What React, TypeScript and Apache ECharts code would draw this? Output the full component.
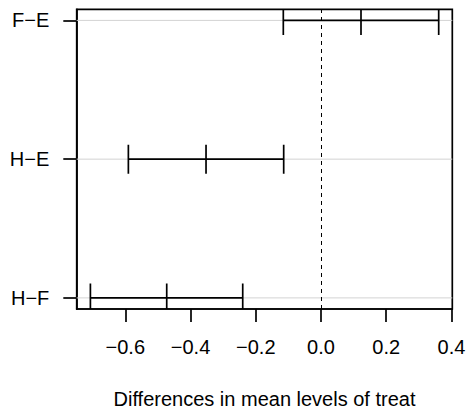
import React, { useEffect, useRef } from "react";
import * as echarts from "echarts";

const comparisons = ["F−E", "H−E", "H−F"];
const positions = [3, 2, 1];
const diffs = [0.1226, -0.3525, -0.473];
const lowers = [-0.1156, -0.5906, -0.707];
const uppers = [0.3608, -0.1144, -0.24];
const xTicks = [-0.6, -0.4, -0.2, 0, 0.2, 0.4];
const xMin = -0.749;
const xMax = 0.4025;
const yMin = 0.92;
const yMax = 3.08;
const xTitle = "Differences in mean levels of treat";

const FONT = "'Liberation Sans', Arial, Helvetica, sans-serif";

export default function App() {
  const ref = useRef<HTMLDivElement>(null);
  useEffect(() => {
    document.body.style.margin = "0";
    const chart = echarts.init(ref.current!, null, { renderer: "svg" });
    const barData = comparisons.map((c, i) => [lowers[i], diffs[i], uppers[i], positions[i]]);
    const gridData = positions.map((p) => [p]);
    chart.setOption({
      animation: false,
      backgroundColor: "#ffffff",
      textStyle: { fontFamily: FONT },
      grid: {
        left: 76.7,
        right: 17.7,
        top: 9.3,
        bottom: 104.7,
        show: true,
        borderColor: "#000",
        borderWidth: 1.7,
        backgroundColor: "transparent",
      },
      xAxis: {
        type: "value",
        min: xMin,
        max: xMax,
        name: xTitle,
        nameLocation: "middle",
        nameGap: 80,
        nameTextStyle: { fontSize: 20, color: "#000", fontFamily: FONT },
        axisLine: { show: true, onZero: false, lineStyle: { color: "#000", width: 1.7 } },
        axisTick: { show: true, length: 13, customValues: xTicks, lineStyle: { color: "#000", width: 1.7 } },
        axisLabel: {
          customValues: xTicks,
          fontSize: 20,
          color: "#000",
          margin: 28,
          fontFamily: FONT,
          formatter: (v: number) => (v < 0 ? "−" + Math.abs(v).toFixed(1) : v.toFixed(1)),
        },
        splitLine: { show: false },
      },
      yAxis: {
        type: "value",
        min: yMin,
        max: yMax,
        axisLine: { show: true, onZero: false, lineStyle: { color: "#000", width: 1.7 } },
        axisTick: { show: true, length: 13.4, customValues: positions, lineStyle: { color: "#000", width: 1.7 } },
        axisLabel: {
          customValues: positions,
          fontSize: 20,
          color: "#000",
          margin: 27.4,
          fontFamily: FONT,
          formatter: (v: number) => {
            const idx = positions.indexOf(Math.round(v));
            return idx >= 0 ? comparisons[idx] : "";
          },
        },
        splitLine: { show: false },
      },
      series: [
        {
          type: "custom",
          name: "grid",
          clip: true,
          z: 1,
          data: gridData,
          renderItem: (params: any, api: any) => {
            const y = api.value(0);
            const a = api.coord([xMin, y]);
            const b = api.coord([xMax, y]);
            return {
              type: "line",
              shape: { x1: a[0], y1: a[1], x2: b[0], y2: b[1] },
              style: { stroke: "#d3d3d3", lineWidth: 1 },
            };
          },
          markLine: {
            silent: true,
            symbol: "none",
            label: { show: false },
            lineStyle: { color: "#000", width: 1, type: [4, 4] },
            data: [{ xAxis: 0 }],
            z: 2,
          },
        },
        {
          type: "custom",
          name: "intervals",
          clip: true,
          z: 3,
          data: barData,
          renderItem: (params: any, api: any) => {
            const lo = api.coord([api.value(0), api.value(3)]);
            const mid = api.coord([api.value(1), api.value(3)]);
            const hi = api.coord([api.value(2), api.value(3)]);
            const h = 14.5;
            const st = { stroke: "#000", lineWidth: 1.7 };
            return {
              type: "group",
              children: [
                { type: "line", shape: { x1: lo[0], y1: lo[1], x2: hi[0], y2: hi[1] }, style: st },
                { type: "line", shape: { x1: lo[0], y1: lo[1] - h, x2: lo[0], y2: lo[1] + h }, style: st },
                { type: "line", shape: { x1: mid[0], y1: mid[1] - h, x2: mid[0], y2: mid[1] + h }, style: st },
                { type: "line", shape: { x1: hi[0], y1: hi[1] - h, x2: hi[0], y2: hi[1] + h }, style: st },
              ],
            };
          },
        },
      ],
    });
    return () => chart.dispose();
  }, []);
  return <div ref={ref} style={{ width: 470, height: 414 }} />;
}
